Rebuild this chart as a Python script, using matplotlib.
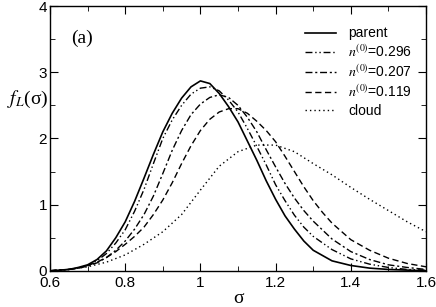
import numpy as np
import matplotlib
matplotlib.use('Agg')
import matplotlib.pyplot as plt
from matplotlib.ticker import MultipleLocator

plt.rcParams['font.family'] = 'Liberation Sans'
plt.rcParams['mathtext.fontset'] = 'stix'

# curves
sig_parent = [0.60, 0.65, 0.675, 0.70, 0.725, 0.75, 0.775, 0.80, 0.825, 0.85, 0.875, 0.90,
              0.925, 0.95, 0.975, 1.00, 1.025, 1.05, 1.075, 1.10, 1.125, 1.15, 1.175, 1.20,
              1.225, 1.25, 1.275, 1.30, 1.35, 1.40, 1.45, 1.50, 1.55, 1.60]
f_parent = [0.00, 0.02, 0.05, 0.09, 0.17, 0.30, 0.50, 0.74, 1.05, 1.40, 1.76, 2.10,
            2.38, 2.61, 2.78, 2.87, 2.83, 2.68, 2.48, 2.25, 1.96, 1.67, 1.36, 1.08,
            0.83, 0.63, 0.45, 0.31, 0.15, 0.08, 0.04, 0.02, 0.01, 0.00]

sig_296 = [0.60, 0.65, 0.675, 0.70, 0.725, 0.75, 0.775, 0.80, 0.825, 0.85, 0.875, 0.90,
           0.925, 0.95, 0.975, 1.00, 1.025, 1.05, 1.075, 1.10, 1.125, 1.15, 1.175, 1.20,
           1.225, 1.25, 1.275, 1.30, 1.35, 1.40, 1.45, 1.50, 1.55, 1.60]
f_296 = [0.00, 0.02, 0.04, 0.08, 0.15, 0.26, 0.42, 0.62, 0.90, 1.23, 1.62, 2.00,
         2.28, 2.50, 2.67, 2.76, 2.78, 2.72, 2.58, 2.40, 2.15, 1.88, 1.60, 1.30,
         1.06, 0.84, 0.66, 0.52, 0.32, 0.18, 0.10, 0.05, 0.02, 0.01]

sig_207 = [0.60, 0.65, 0.675, 0.70, 0.725, 0.75, 0.775, 0.80, 0.825, 0.85, 0.875, 0.90,
           0.925, 0.95, 0.975, 1.00, 1.025, 1.05, 1.075, 1.10, 1.125, 1.15, 1.175, 1.20,
           1.225, 1.25, 1.275, 1.30, 1.35, 1.40, 1.45, 1.50, 1.55, 1.60]
f_207 = [0.00, 0.02, 0.04, 0.07, 0.12, 0.20, 0.31, 0.45, 0.63, 0.85, 1.13, 1.47,
         1.82, 2.12, 2.36, 2.52, 2.62, 2.66, 2.62, 2.50, 2.32, 2.10, 1.83, 1.57,
         1.32, 1.10, 0.91, 0.75, 0.48, 0.29, 0.17, 0.09, 0.05, 0.02]

sig_119 = [0.60, 0.65, 0.675, 0.70, 0.725, 0.75, 0.775, 0.80, 0.825, 0.85, 0.875, 0.90,
           0.925, 0.95, 0.975, 1.00, 1.025, 1.05, 1.075, 1.10, 1.125, 1.15, 1.175, 1.20,
           1.225, 1.25, 1.275, 1.30, 1.325, 1.35, 1.40, 1.45, 1.50, 1.55, 1.60]
f_119 = [0.00, 0.02, 0.04, 0.08, 0.13, 0.20, 0.29, 0.40, 0.52, 0.66, 0.85, 1.07,
         1.33, 1.62, 1.89, 2.12, 2.29, 2.40, 2.45, 2.45, 2.38, 2.26, 2.12, 1.95,
         1.73, 1.50, 1.27, 1.06, 0.88, 0.72, 0.47, 0.31, 0.19, 0.11, 0.06]

sig_cloud = [0.60, 0.65, 0.70, 0.75, 0.80, 0.85, 0.90, 0.95, 1.00, 1.05, 1.10, 1.15,
             1.20, 1.25, 1.30, 1.35, 1.40, 1.45, 1.50, 1.55, 1.60]
f_cloud = [0.00, 0.02, 0.06, 0.13, 0.24, 0.40, 0.59, 0.85, 1.22, 1.58, 1.80, 1.90,
           1.90, 1.80, 1.62, 1.45, 1.26, 1.08, 0.91, 0.74, 0.59]

fig = plt.figure(figsize=(4.36, 3.07), dpi=100)
ax = fig.add_axes([0.1147, 0.118, 0.8624, 0.862])

ax.plot(sig_parent, f_parent, c='black', lw=1.2, ls='-', label='parent')
ax.plot(sig_296, f_296, c='black', lw=1.0, ls=(0, (5, 2, 1, 2, 1, 2)), label=r'$n^{(0)}$=0.296')
ax.plot(sig_207, f_207, c='black', lw=1.0, ls=(0, (5, 2, 1.5, 2)), label=r'$n^{(0)}$=0.207')
ax.plot(sig_119, f_119, c='black', lw=1.0, ls=(0, (4.5, 2.5)), label=r'$n^{(0)}$=0.119')
ax.plot(sig_cloud, f_cloud, c='black', lw=1.0, ls=(0, (1, 2.2)), label='cloud')

ax.set_xlim(0.6, 1.6)
ax.set_ylim(0, 4)
ax.xaxis.set_minor_locator(MultipleLocator(0.1))
ax.yaxis.set_major_locator(MultipleLocator(1))
ax.yaxis.set_minor_locator(MultipleLocator(0.5))
ax.set_xticks([0.6, 0.8, 1.0, 1.2, 1.4, 1.6])
ax.set_xticklabels(['0.6', '0.8', '1', '1.2', '1.4', '1.6'])
ax.tick_params(which='both', direction='in', top=True, right=True, labelsize=11)
ax.tick_params(axis='x', pad=4)
ax.tick_params(axis='y', pad=2)
ax.tick_params(which='major', length=6)
ax.tick_params(which='minor', length=3.5)
for s in ax.spines.values():
    s.set_linewidth(1.0)

ax.set_xlabel('σ', family='Liberation Serif', fontsize=14, labelpad=0)
fig.text(0.015, 0.675, r'$f_L$(σ)', family='Liberation Serif', fontsize=14, va='center', ha='left')
ax.text(0.655, 3.45, '(a)', family='Liberation Serif', fontsize=14)

ax.legend(loc='upper right', bbox_to_anchor=(0.985, 0.955), frameon=False, fontsize=10,
          handlelength=2.2, handletextpad=0.9, labelspacing=0.25, borderaxespad=0.2)

plt.savefig('out.png', dpi=100)
